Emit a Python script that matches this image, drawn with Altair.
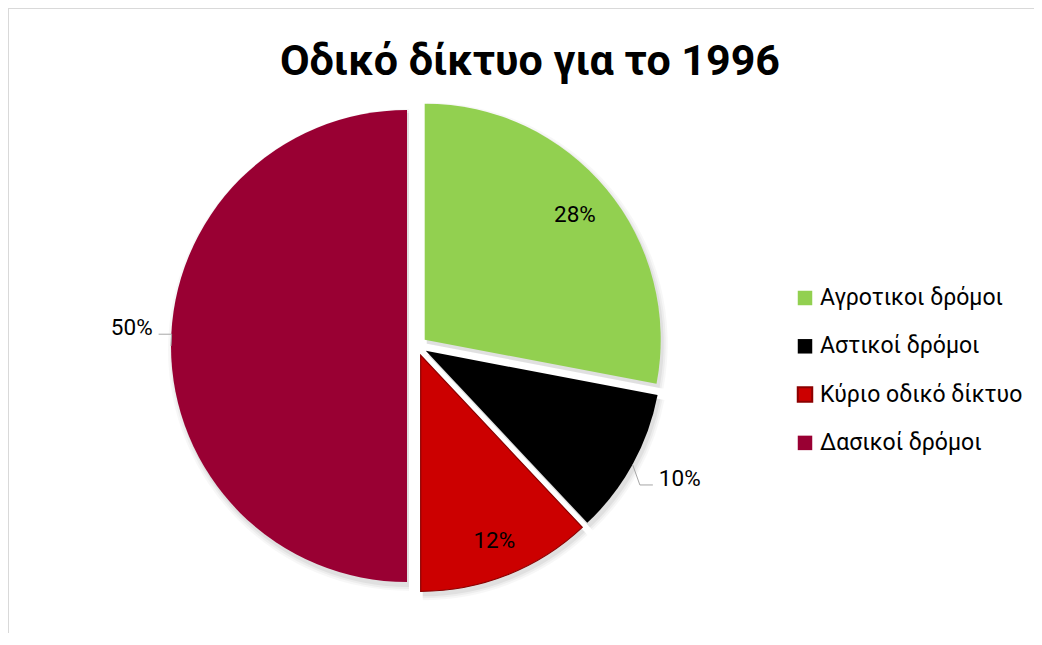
import altair as alt
import pandas as pd

# ---- data ----
categories = ["Αγροτικοι δρόμοι", "Αστικοί δρόμοι", "Κύριο οδικό δίκτυο", "Δασικοί δρόμοι"]
values = [28, 10, 12, 50]
colors = ["#92D050", "#000000", "#CC0000", "#990033"]
title_text = "Οδικό δίκτυο για το 1996"

# ---- styles (label placement: radius, angle nudge in degrees, outside flag) ----
LABEL_STYLE = {
    "Αγροτικοι δρόμοι": (195, 0, 0),
    "Αστικοί δρόμοι": (266, 0, 1),
    "Κύριο οδικό δίκτυο": (200, 0, 0),
    "Δασικοί δρόμοι": (255, 4, 1),
}
CX, CY, R, EXPLODE = 409, 338, 236, 10
FONT = "Roboto"

df = pd.DataFrame({"category": categories, "value": values, "order": list(range(len(categories)))})


def style_expr(idx):
    expr = "0"
    for k, v in LABEL_STYLE.items():
        expr = f"datum.category == '{k}' ? {v[idx]} : ({expr})"
    return expr


base = (
    alt.Chart(df)
    .transform_window(cum="sum(value)", sort=[alt.SortField("order")], frame=[None, 0])
    .transform_joinaggregate(total="sum(value)")
    .transform_calculate(
        t0="2*PI*(datum.cum - datum.value)/datum.total",
        t1="2*PI*datum.cum/datum.total",
        pct="datum.value/datum.total",
    )
    .transform_calculate(mid="(datum.t0 + datum.t1)/2")
    .transform_calculate(
        cx=f"{CX} + {EXPLODE}*sin(datum.mid)",
        cy=f"{CY} - {EXPLODE}*cos(datum.mid)",
        lr=style_expr(0),
        ldelta=style_expr(1),
        outside=style_expr(2),
    )
    .transform_calculate(lang="datum.mid + datum.ldelta*PI/180")
    .transform_calculate(
        lx="datum.cx + datum.lr*sin(datum.lang)",
        ly="datum.cy - datum.lr*cos(datum.lang)",
        side="sin(datum.lang) > 0 ? 1 : -1",
        ex=f"datum.cx + {R}*sin(datum.mid)",
        ey=f"datum.cy - {R}*cos(datum.mid)",
        sx="datum.cx + 2",
        sy="datum.cy + 4",
    )
    .transform_calculate(
        elx="datum.lx - datum.side*19",
        ely="datum.ly + 6",
        hx2="datum.lx - datum.side*6",
    )
)

color_enc = alt.Color(
    "category:N", scale=alt.Scale(domain=categories, range=colors), legend=None
)

# soft shadow approximation
shadows = [
    base.mark_arc(outerRadius=R + rr, color="#000000", opacity=op).encode(
        x=alt.X("sx:Q", scale=None),
        y=alt.Y("sy:Q", scale=None),
        theta=alt.Theta("t0:Q", scale=None),
        theta2=alt.Theta2("t1:Q"),
    )
    for rr, op in [(5, 0.03), (3, 0.04), (1, 0.05)]
]

pie = base.mark_arc(outerRadius=R).encode(
    x=alt.X("cx:Q", scale=None),
    y=alt.Y("cy:Q", scale=None),
    theta=alt.Theta("t0:Q", scale=None),
    theta2=alt.Theta2("t1:Q"),
    color=color_enc,
    stroke=alt.condition(
        alt.datum.category == categories[2], alt.value("#8B0000"), alt.value("#ffffff")
    ),
    strokeWidth=alt.condition(
        alt.datum.category == categories[2], alt.value(1.2), alt.value(0)
    ),
)

label_common = dict(fontSize=22.5, font=FONT, color="#000000", baseline="middle")
labels_in = base.transform_filter("datum.outside == 0").mark_text(
    align="center", **label_common
).encode(
    x=alt.X("lx:Q", scale=None),
    y=alt.Y("ly:Q", scale=None),
    text=alt.Text("pct:Q", format=".0%"),
)
labels_right = base.transform_filter("datum.outside == 1 && datum.side > 0").mark_text(
    align="left", **label_common
).encode(
    x=alt.X("lx:Q", scale=None),
    y=alt.Y("ly:Q", scale=None),
    text=alt.Text("pct:Q", format=".0%"),
)
labels_left = base.transform_filter("datum.outside == 1 && datum.side < 0").mark_text(
    align="right", **label_common
).encode(
    x=alt.X("lx:Q", scale=None),
    y=alt.Y("ly:Q", scale=None),
    text=alt.Text("pct:Q", format=".0%"),
)

lead1 = base.transform_filter("datum.outside == 1").mark_rule(
    color="#A6A6A6", strokeWidth=1
).encode(
    x=alt.X("ex:Q", scale=None),
    y=alt.Y("ey:Q", scale=None),
    x2=alt.X2("elx:Q"),
    y2=alt.Y2("ely:Q"),
)
lead2 = base.transform_filter("datum.outside == 1").mark_rule(
    color="#A6A6A6", strokeWidth=1
).encode(
    x=alt.X("elx:Q", scale=None),
    y=alt.Y("ely:Q", scale=None),
    x2=alt.X2("hx2:Q"),
    y2=alt.Y2("ely:Q"),
)

# legend (manual, same colour scale)
leg = alt.Chart(df).transform_calculate(ly="290 + datum.order*48.3")
leg_sym = leg.mark_square(size=210, opacity=1).encode(
    x=alt.value(797),
    y=alt.Y("ly:Q", scale=None),
    color=color_enc,
    stroke=alt.condition(
        alt.datum.category == categories[2], alt.value("#8B0000"), alt.value("transparent")
    ),
)
leg_txt = leg.mark_text(
    align="left", baseline="middle", fontSize=23, font=FONT, color="#000000"
).encode(
    x=alt.value(812),
    y=alt.Y("ly:Q", scale=None),
    text="category:N",
)

title = alt.Chart(pd.DataFrame({"t": [title_text]})).mark_text(
    align="center", baseline="alphabetic", fontSize=43, fontWeight="bold", font=FONT, color="#000000"
).encode(x=alt.value(522), y=alt.value(67), text="t:N")

border_top = alt.Chart(pd.DataFrame({"a": [0]})).mark_rule(color="#D9D9D9", strokeWidth=1).encode(
    x=alt.value(0), x2=alt.value(1026), y=alt.value(0.5)
)
border_left = alt.Chart(pd.DataFrame({"a": [0]})).mark_rule(color="#D9D9D9", strokeWidth=1).encode(
    x=alt.value(0.5), y=alt.value(0), y2=alt.value(629)
)

chart = (
    alt.layer(
        border_top, border_left, *shadows, pie, lead1, lead2, labels_in, labels_right, labels_left,
        leg_sym, leg_txt, title,
    )
    .properties(width=1026, height=625, padding=0, autosize="none", background="#ffffff")
    .configure_view(stroke=None)
)

chart.save("out.html", embed_options={"renderer": "svg", "actions": False})
